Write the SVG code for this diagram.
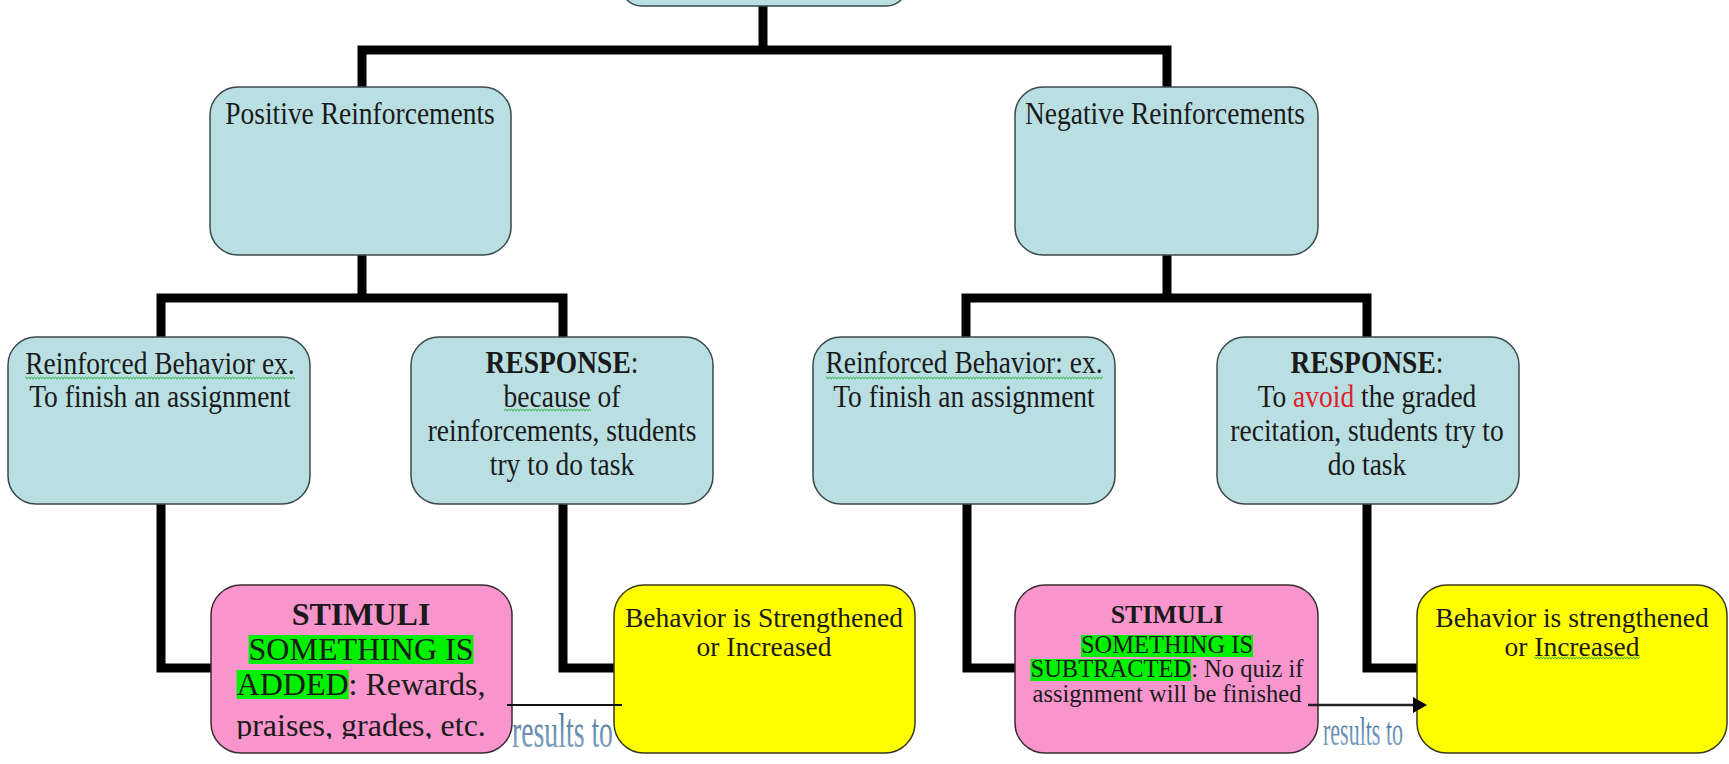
<svg xmlns="http://www.w3.org/2000/svg" width="1729" height="764" viewBox="0 0 1729 764">
<style>
.t{font-family:"Liberation Serif","Times New Roman",serif;font-size:27.5px;fill:#1a1a1a;text-anchor:middle}
.b{font-weight:bold}
.p{font-size:32px}
.s{font-size:24.5px}
.red{fill:#e0202a}
.blue{fill:#b9dfe3;stroke:#3b4a4c;stroke-width:1.5}
.pink{fill:#f895cc;stroke:#3b2a33;stroke-width:1.5}
.yel{fill:#ffff00;stroke:#3a3a1a;stroke-width:1.5}
.con{fill:none;stroke:#000;stroke-width:9;stroke-linejoin:miter}
.hl{fill:#00f000}
.wv{fill:url(#wavy)}
.res{font-family:"Liberation Serif","Times New Roman",serif;fill:url(#resgrad)}
</style>
<defs>
<pattern id="wavy" width="6" height="4" patternUnits="userSpaceOnUse">
<path d="M0 3.2 L1.5 0.8 L3 3.2 L4.5 0.8 L6 3.2" fill="none" stroke="#3cb043" stroke-width="0.9"/>
</pattern>
<linearGradient id="resgrad" x1="0" y1="0" x2="0" y2="1">
<stop offset="0" stop-color="#3f6a96"/>
<stop offset="1" stop-color="#8eaecb"/>
</linearGradient>
<marker id="ah" markerUnits="userSpaceOnUse" markerWidth="16" markerHeight="18" refX="3" refY="8" orient="auto">
<path d="M0 0 L14 8 L0 16 Z" fill="#000"/>
</marker>
<clipPath id="clipL"><rect x="211" y="585" width="301" height="154"/></clipPath>
</defs>
<rect width="1729" height="764" fill="#fff"/>

<g id="connectors">
<path class="con" d="M763 6 V50"/>
<path class="con" d="M362 87 V50 H1167 V87"/>
<path class="con" d="M362 255 V298"/>
<path class="con" d="M161 337 V298 H563 V337"/>
<path class="con" d="M1167 255 V298"/>
<path class="con" d="M966 337 V298 H1367 V337"/>
<path class="con" d="M161 504 V668 H215"/>
<path class="con" d="M563 504 V668 H618"/>
<path class="con" d="M967 504 V668 H1019"/>
<path class="con" d="M1367 504 V668 H1421"/>
</g>

<g id="root">
<rect class="blue" x="620" y="-40" width="288" height="46" rx="22"/>
</g>

<g id="positive">
<rect class="blue" x="210" y="87" width="301" height="168" rx="28"/>
<text class="t" x="360" y="124" transform="matrix(1 0 0 1.12 0 -14.88)">Positive Reinforcements</text>
</g>

<g id="negative">
<rect class="blue" x="1015" y="87" width="303" height="168" rx="28"/>
<text class="t" x="1165" y="124" transform="matrix(1 0 0 1.12 0 -14.88)">Negative Reinforcements</text>
</g>

<g id="pos-behavior">
<rect class="blue" x="8" y="337" width="302" height="167" rx="28"/>
<rect class="wv" x="25" y="376" width="270" height="4"/>
<text class="t" x="160" y="374" transform="matrix(1 0 0 1.12 0 -44.88)">Reinforced Behavior ex.</text>
<text class="t" x="160" y="407" transform="matrix(1 0 0 1.12 0 -48.84)">To finish an assignment</text>
</g>

<g id="pos-response">
<rect class="blue" x="411" y="337" width="302" height="167" rx="28"/>
<rect class="wv" x="504" y="408" width="87" height="4"/>
<text class="t" x="562" y="373" transform="matrix(1 0 0 1.12 0 -44.76)"><tspan class="b">RESPONSE</tspan>:</text>
<text class="t" x="562" y="407" transform="matrix(1 0 0 1.12 0 -48.84)">because of</text>
<text class="t" x="562" y="441" transform="matrix(1 0 0 1.12 0 -52.92)">reinforcements, students</text>
<text class="t" x="562" y="475" transform="matrix(1 0 0 1.12 0 -57)">try to do task</text>
</g>

<g id="neg-behavior">
<rect class="blue" x="813" y="337" width="302" height="167" rx="28"/>
<rect class="wv" x="826" y="376" width="277" height="4"/>
<text class="t" x="964" y="373" transform="matrix(1 0 0 1.12 0 -44.76)">Reinforced Behavior: ex.</text>
<text class="t" x="964" y="407" transform="matrix(1 0 0 1.12 0 -48.84)">To finish an assignment</text>
</g>

<g id="neg-response">
<rect class="blue" x="1217" y="337" width="302" height="167" rx="28"/>
<text class="t" x="1367" y="373" transform="matrix(1 0 0 1.12 0 -44.76)"><tspan class="b">RESPONSE</tspan>:</text>
<text class="t" x="1367" y="407" transform="matrix(1 0 0 1.12 0 -48.84)">To <tspan class="red">avoid</tspan> the graded</text>
<text class="t" x="1367" y="441" transform="matrix(1 0 0 1.12 0 -52.92)">recitation, students try to</text>
<text class="t" x="1367" y="475" transform="matrix(1 0 0 1.12 0 -57)">do task</text>
</g>

<g id="pos-stimuli">
<rect class="pink" x="211" y="585" width="301" height="168" rx="30"/>
<rect class="hl" x="248.6" y="635" width="224.8" height="29"/>
<rect class="hl" x="236.6" y="670" width="112" height="29"/>
<text class="t p b" x="361" y="625">STIMULI</text>
<text class="t p" x="361" y="660">SOMETHING IS</text>
<text class="t p" x="361" y="695">ADDED: Rewards,</text>
<text class="t p" x="361" y="736" clip-path="url(#clipL)">praises, grades, etc.</text>
</g>

<g id="pos-result">
<rect class="yel" x="614" y="585" width="301" height="168" rx="30"/>
<text class="t" x="764" y="627">Behavior is Strengthened</text>
<text class="t" x="764" y="656">or Increased</text>
</g>

<g id="neg-stimuli">
<rect class="pink" x="1015" y="585" width="303" height="168" rx="30"/>
<rect class="hl" x="1081" y="635" width="172" height="22"/>
<rect class="hl" x="1030.5" y="659" width="160.6" height="22"/>
<text class="t b" x="1167" y="623" style="font-size:26px">STIMULI</text>
<text class="t s" x="1167" y="653">SOMETHING IS</text>
<text class="t s" x="1167" y="677">SUBTRACTED: No quiz if</text>
<text class="t s" x="1167" y="702">assignment will be finished</text>
</g>

<g id="neg-result">
<rect class="yel" x="1417" y="585" width="310" height="168" rx="30"/>
<rect class="wv" x="1534" y="656" width="106" height="4"/>
<text class="t" x="1572" y="627">Behavior is strengthened</text>
<text class="t" x="1572" y="656">or Increased</text>
</g>

<g id="result-connectors">
<line x1="507" y1="705" x2="622" y2="705" stroke="#111" stroke-width="1.8"/>
<text class="res" x="512" y="747" font-size="48" textLength="101" lengthAdjust="spacingAndGlyphs">results to</text>
<line x1="1308" y1="705" x2="1416" y2="705" stroke="#222" stroke-width="2.5" marker-end="url(#ah)"/>
<text class="res" x="1323" y="745" font-size="39" textLength="80" lengthAdjust="spacingAndGlyphs">results to</text>
</g>
</svg>
